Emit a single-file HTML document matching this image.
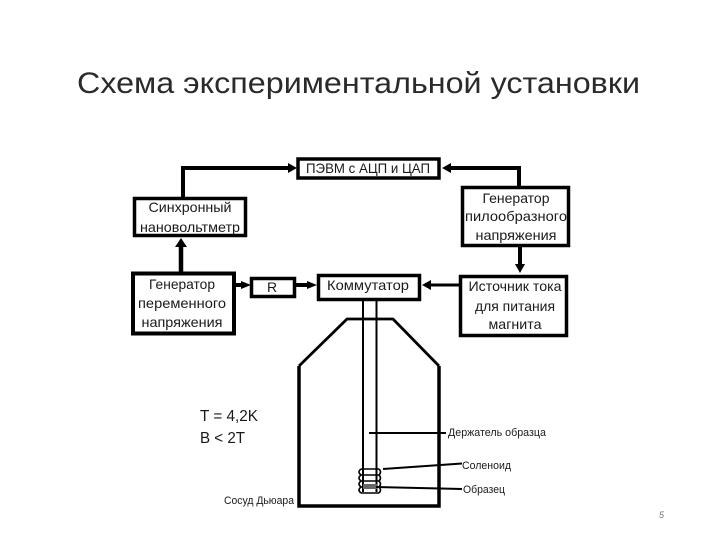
<!DOCTYPE html>
<html lang="ru">
<head>
<meta charset="utf-8">
<style>
html,body{margin:0;padding:0;background:#fff;}
svg{display:block;}
text{font-family:"Liberation Sans",sans-serif;fill:#1a1a1a;}
</style>
</head>
<body>
<svg width="720" height="540" viewBox="0 0 720 540" xmlns="http://www.w3.org/2000/svg">
<rect width="720" height="540" fill="#fff"/>
<text x="77" y="93" font-size="30" textLength="563" lengthAdjust="spacingAndGlyphs" style="fill:#2a2a2a">Схема экспериментальной установки</text>

<g fill="#fff" stroke="#000" stroke-width="3.5">
<rect x="298" y="159" width="141" height="19"/>
<rect x="134.500" y="198.500" width="111" height="37"/>
<rect x="133" y="273.500" width="101" height="60" stroke-width="4"/>
<rect x="251.500" y="278.500" width="43" height="18"/>
<rect x="318.500" y="275.500" width="101" height="24"/>
<rect x="462.500" y="187.500" width="106" height="58"/>
<rect x="460.500" y="276.500" width="106" height="59"/>
</g>

<g stroke="#000" fill="none">
<path d="M183 197V168H290" stroke-width="4"/>
<path d="M519 186V168H448" stroke-width="4"/>
<path d="M181 272V244" stroke-width="4.500"/>
<path d="M520 247V268" stroke-width="4"/>
<path d="M236 285H244" stroke-width="4"/>
<path d="M296 285H310" stroke-width="4"/>
<path d="M459 285H428" stroke-width="3"/>
</g>
<g fill="#000">
<path d="M297 168L288 163V173Z"/>
<path d="M442 168L451 163V173Z"/>
<path d="M181 238L175 247H187Z"/>
<path d="M520 273L515 264H525Z"/>
<path d="M251 285L241 281V289Z"/>
<path d="M317 285L307 281V289Z"/>
<path d="M422 285L431 280V290Z"/>
</g>

<g text-anchor="middle" font-size="14">
<text x="368" y="173" textLength="124" lengthAdjust="spacingAndGlyphs">ПЭВМ с АЦП и ЦАП</text>
<text x="190" y="212" textLength="83" lengthAdjust="spacingAndGlyphs">Синхронный</text>
<text x="190" y="232" textLength="100" lengthAdjust="spacingAndGlyphs">нановольтметр</text>
<text x="182" y="289" textLength="66" lengthAdjust="spacingAndGlyphs">Генератор</text>
<text x="182" y="308" textLength="88" lengthAdjust="spacingAndGlyphs">переменного</text>
<text x="182" y="327" textLength="81" lengthAdjust="spacingAndGlyphs">напряжения</text>
<text x="272" y="292">R</text>
<text x="368" y="290" textLength="82" lengthAdjust="spacingAndGlyphs">Коммутатор</text>
<text x="516" y="203" textLength="67" lengthAdjust="spacingAndGlyphs">Генератор</text>
<text x="516" y="221" textLength="102" lengthAdjust="spacingAndGlyphs">пилообразного</text>
<text x="516" y="240" textLength="81" lengthAdjust="spacingAndGlyphs">напряжения</text>
<text x="515" y="291" textLength="93" lengthAdjust="spacingAndGlyphs">Источник тока</text>
<text x="515" y="311" textLength="80" lengthAdjust="spacingAndGlyphs">для питания</text>
<text x="515" y="329" textLength="53" lengthAdjust="spacingAndGlyphs">магнита</text>
</g>

<path d="M299 366L347 319H393L439 366" fill="none" stroke="#000" stroke-width="2.800"/>
<path d="M439 366V506H299V366" fill="none" stroke="#000" stroke-width="3.500"/>
<path d="M363 301V492M376.500 301V492" fill="none" stroke="#000" stroke-width="2"/>

<g fill="none" stroke="#000" stroke-width="1.600">
<path d="M361 469H379M361 475H379M361 481H379M361 487H379M361 493H379"/>
<path d="M361 469Q357 472 361 475Q357 478 361 481Q357 484 361 487Q357 490 361 493"/>
<path d="M379 469Q382 472 379 475Q382 478 379 481Q382 484 379 487Q382 490 379 493"/>
</g>
<rect x="363" y="484" width="14" height="5" fill="#666"/>

<g fill="none" stroke="#000">
<path d="M369 433H446" stroke-width="2"/>
<path d="M383 469L462 463.500" stroke-width="2"/>
<path d="M376 487L462 489" stroke-width="2"/>
</g>

<g font-size="11">
<text x="448" y="436" textLength="98" lengthAdjust="spacingAndGlyphs">Держатель образца</text>
<text x="462" y="469" textLength="49" lengthAdjust="spacingAndGlyphs">Соленоид</text>
<text x="463" y="493" textLength="42" lengthAdjust="spacingAndGlyphs">Образец</text>
<text x="224" y="504" textLength="70" lengthAdjust="spacingAndGlyphs">Сосуд Дьюара</text>
</g>
<text x="200" y="421" font-size="15.500" textLength="58" lengthAdjust="spacingAndGlyphs">T = 4,2K</text>
<text x="200" y="443" font-size="15.500" textLength="45" lengthAdjust="spacingAndGlyphs">B &lt; 2T</text>
<text x="659" y="518" font-size="9" font-style="italic" style="fill:#777">5</text>
</svg>
</body>
</html>
